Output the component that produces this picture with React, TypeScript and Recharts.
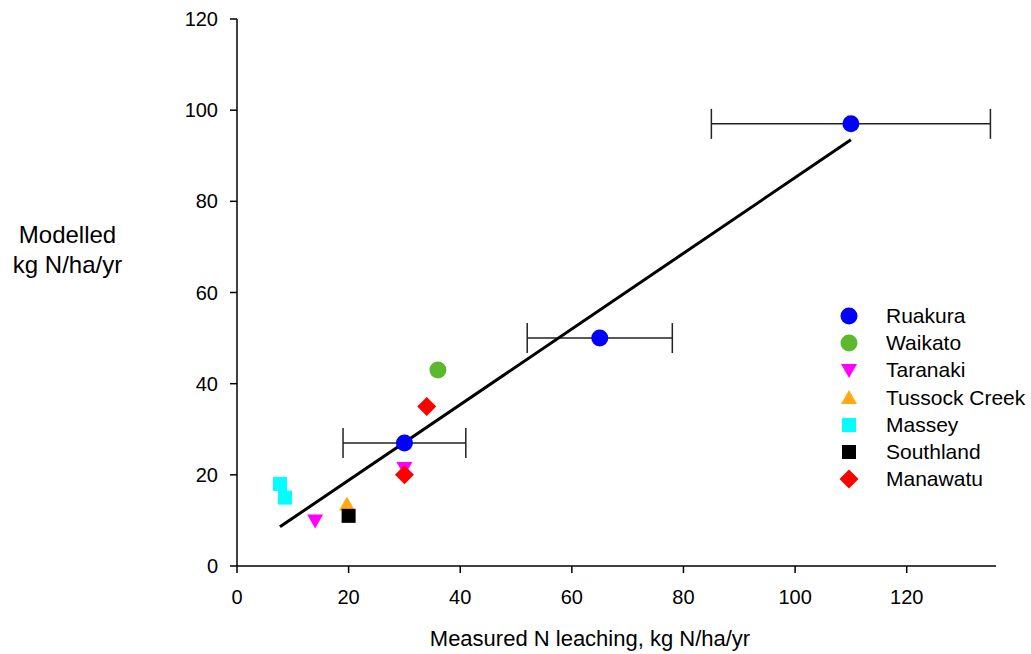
import { ScatterChart, Scatter, XAxis, YAxis, ErrorBar } from 'recharts';

// site series: measured (x), modelled (y)
const ruakura = [
	{ x: 30, y: 27, err: 11 },
	{ x: 65, y: 50, err: 13 },
	{ x: 110, y: 97, err: 25 },
];
const waikato = [{ x: 36, y: 43 }];
const taranaki = [
	{ x: 14, y: 10 },
	{ x: 30, y: 21.5 },
];
const tussockCreek = [{ x: 19.7, y: 13.5 }];
const massey = [
	{ x: 7.7, y: 18 },
	{ x: 8.6, y: 15 },
];
const southland = [{ x: 20, y: 11 }];
const manawatu = [
	{ x: 30, y: 20 },
	{ x: 34, y: 35 },
];
// regression line end points
const fitLine = [
	{ x: 7.7, y: 8.6 },
	{ x: 110, y: 93.5 },
];

const xTicks = [0, 20, 40, 60, 80, 100, 120];
const yTicks = [0, 20, 40, 60, 80, 100, 120];

const FONT = '"Liberation Sans", Arial, sans-serif';

type Marker = 'circle' | 'triDown' | 'triUp' | 'square' | 'diamond';

const drawMarker = (kind: Marker, cx: number, cy: number, fill: string) => {
	switch (kind) {
		case 'circle':
			return <circle cx={cx} cy={cy} r={8.5} fill={fill} />;
		case 'triDown':
			return (
				<polygon
					points={`${cx - 8},${cy - 6} ${cx + 8},${cy - 6} ${cx},${cy + 8}`}
					fill={fill}
				/>
			);
		case 'triUp':
			return (
				<polygon
					points={`${cx - 8},${cy + 6} ${cx + 8},${cy + 6} ${cx},${cy - 8}`}
					fill={fill}
				/>
			);
		case 'square':
			return <rect x={cx - 7} y={cy - 7} width={14} height={14} fill={fill} />;
		case 'diamond':
			return (
				<polygon
					points={`${cx},${cy - 9.5} ${cx + 9.5},${cy} ${cx},${cy + 9.5} ${cx - 9.5},${cy}`}
					fill={fill}
				/>
			);
	}
};

const series: { name: string; data: { x: number; y: number }[]; color: string; marker: Marker }[] = [
	{ name: 'Ruakura', data: ruakura, color: '#0000FF', marker: 'circle' },
	{ name: 'Waikato', data: waikato, color: '#5DB82E', marker: 'circle' },
	{ name: 'Taranaki', data: taranaki, color: '#FF00FF', marker: 'triDown' },
	{ name: 'Tussock Creek', data: tussockCreek, color: '#FFAA14', marker: 'triUp' },
	{ name: 'Massey', data: massey, color: '#00FFFF', marker: 'square' },
	{ name: 'Southland', data: southland, color: '#000000', marker: 'square' },
	{ name: 'Manawatu', data: manawatu, color: '#FF0000', marker: 'diamond' },
];

const tickStyle = { fill: '#000', fontSize: 20, fontFamily: FONT };

export default function App() {
	return (
		<div style={{ position: 'absolute', left: 0, top: 0, width: 1031, height: 654 }}>
			<ScatterChart
				width={1031}
				height={654}
				margin={{ top: 19, right: 35, left: 177, bottom: 58 }}>
				<XAxis
					type='number'
					dataKey='x'
					domain={[0, 136]}
					ticks={xTicks}
					allowDataOverflow
					height={30}
					tickSize={7}
					tickMargin={17}
					stroke='#000'
					axisLine={{ stroke: '#000', strokeWidth: 1.5 }}
					tickLine={{ stroke: '#000', strokeWidth: 1.5 }}
					tick={tickStyle}
				/>
				<YAxis
					type='number'
					dataKey='y'
					domain={[0, 120]}
					ticks={yTicks}
					width={60}
					tickSize={7}
					tickMargin={12}
					stroke='#000'
					axisLine={{ stroke: '#000', strokeWidth: 1.5 }}
					tickLine={{ stroke: '#000', strokeWidth: 1.5 }}
					tick={tickStyle}
				/>
				<Scatter
					name='fit'
					data={fitLine}
					line={{ stroke: '#000', strokeWidth: 3 }}
					shape={() => <g />}
					legendType='none'
					isAnimationActive={false}
				/>
				{series.map((s) => (
					<Scatter
						key={s.name}
						name={s.name}
						data={s.data}
						fill={s.color}
						isAnimationActive={false}
						shape={(p: any) => drawMarker(s.marker, p.cx, p.cy, s.color)}>
						{s.name === 'Ruakura' && (
							<ErrorBar
								dataKey='err'
								direction='x'
								width={15}
								stroke='#222'
								strokeWidth={1.5}
								isAnimationActive={false}
							/>
						)}
					</Scatter>
				))}
			</ScatterChart>

			{/* legend */}
			<div
				style={{
					position: 'absolute',
					left: 837,
					top: 302,
					fontFamily: FONT,
					fontSize: 21,
					color: '#000',
				}}>
				{series.map((s) => (
					<div key={s.name} style={{ display: 'flex', alignItems: 'center', height: 27.3 }}>
						<svg width={24} height={24} style={{ marginRight: 25 }}>
							{drawMarker(s.marker, 12, 12, s.color)}
						</svg>
						<span>{s.name}</span>
					</div>
				))}
			</div>

			<div
				style={{
					position: 'absolute',
					left: 0,
					top: 220,
					width: 135,
					textAlign: 'center',
					fontFamily: FONT,
					fontSize: 24,
					lineHeight: '30px',
				}}>
				Modelled
				<br />
				kg N/ha/yr
			</div>
			<div
				style={{
					position: 'absolute',
					left: 330,
					top: 626,
					width: 520,
					textAlign: 'center',
					fontFamily: FONT,
					fontSize: 22,
				}}>
				Measured N leaching, kg N/ha/yr
			</div>
		</div>
	);
}
